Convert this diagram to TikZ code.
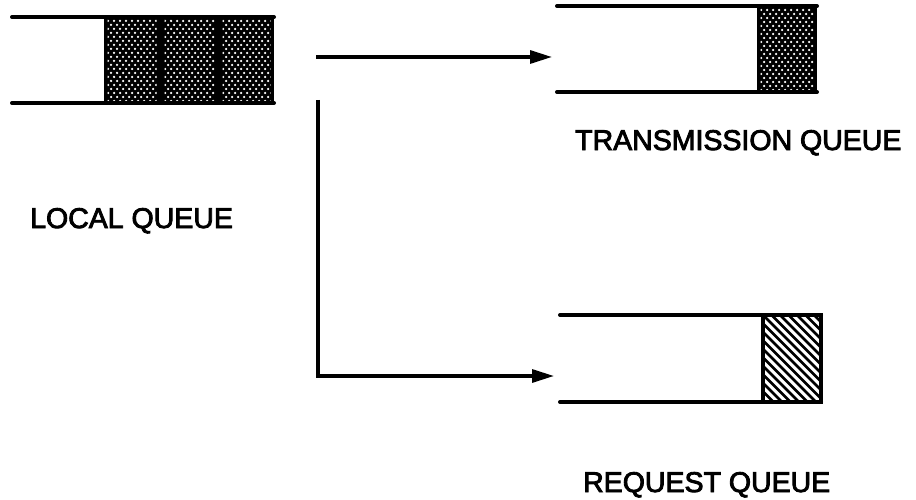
\documentclass[tikz,border=0pt]{standalone}
\usepackage{fontspec}
\setmainfont{Liberation Sans}
\newfontfamily\lblfont[FakeBold=3]{Liberation Sans}
\usetikzlibrary{arrows.meta}
\newcommand\stippledcell[4]{%
  \begin{scope}
  \clip (#1+2.5,#2+2.5) rectangle (#3-2.5,#4-2.5);
  \foreach \r in {0,...,24}{
    \pgfmathsetmacro\off{mod(\r,2)*3}
    \foreach \c in {0,...,11}{
      \fill[white] (#1+3+\off+\c*6, #2+4+\r*4) circle (1.25pt);
    }
  }
  \end{scope}}
\newcommand\hatchedcell[4]{%
  \begin{scope}
  \clip (#1,#2) rectangle (#3,#4);
  \foreach \k in {-14,...,14}{
    \draw[line width=2.8pt] (#1+\k*8.5,#2) -- ++(100,100);
  }
  \end{scope}
  \draw[line width=4pt] (#1,#2) rectangle (#3,#4);}
\begin{document}
\begin{tikzpicture}[x=1pt,y=-1pt,
  qline/.style={line width=4pt,line cap=round},
  flow/.style={line width=3.2pt,-{Triangle[length=22pt,width=13pt]}},
  lbl/.style={font=\lblfont\fontsize{28.5}{30}\selectfont,inner sep=0pt}]
\useasboundingbox (0,0) rectangle (916,500);
% local queue
\fill[black] (104,17) rectangle (274,103);
\stippledcell{105}{17}{159}{103}
\stippledcell{162}{17}{217}{103}
\stippledcell{220}{17}{273}{103}
\draw[qline] (12,17) -- (274,17);
\draw[qline] (12,103) -- (274,103);
% transmission queue
\fill[black] (757,6) rectangle (817,92);
\stippledcell{758}{6}{816}{92}
\draw[qline] (557,6) -- (817,6);
\draw[qline] (557,92) -- (817,92);
% request queue
\hatchedcell{763}{315}{821}{402}
\draw[qline] (560,315) -- (821,315);
\draw[qline] (560,402) -- (821,402);
% connectors
\coordinate (a1) at (316,57);
\coordinate (t1) at (552,57);
\coordinate (a2) at (318,100);
\coordinate (r1) at (554,376);
\draw[flow] (a1) -- (t1);
\draw[flow] (a2) |- (r1);
% labels
\node[lbl,anchor=base west] (local) at (30,228) {LOCAL QUEUE};
\node[lbl,anchor=base west] (trans) at (575,150) {TRANSMISSION QUEUE};
\node[lbl,anchor=base west] (req) at (583,492) {REQUEST QUEUE};
\end{tikzpicture}
\end{document}
